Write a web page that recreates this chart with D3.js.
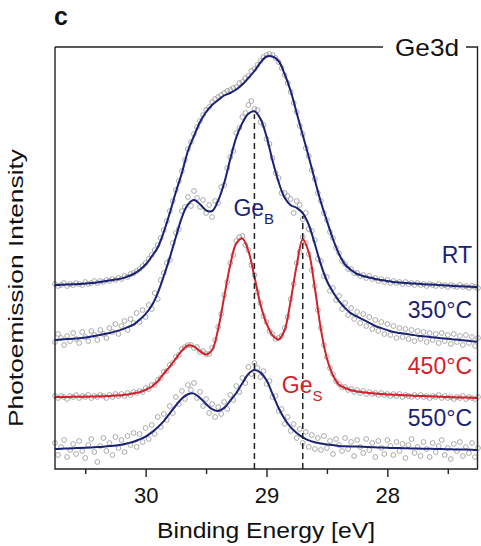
<!DOCTYPE html>
<html>
<head>
<meta charset="utf-8">
<script src="https://cdn.jsdelivr.net/npm/d3@7"></script>
<style>
  html, body { margin: 0; padding: 0; background: #fff; }
  svg { display: block; font-family: "Liberation Sans", Arial, Helvetica, sans-serif; }
</style>
</head>
<body>
<svg id="chart" width="481" height="546"></svg>
<script>
// Ge3d photoemission spectra, binding energy axis (eV, decreasing to the right)
// Fitted envelopes sampled every 0.05 eV starting at 30.75 eV
const FIT_START = 30.75, FIT_STEP = 0.05;
// Measured points sampled every 0.025 eV starting at 30.75 eV
const RAW_START = 30.75, RAW_STEP = 0.025;

const sampleLabels = ["RT", "350\u00B0C", "450\u00B0C", "550\u00B0C"];
const sampleColors = ["#1b2276", "#1b2276", "#d2222b", "#1b2276"];

const fitRT = [184,184.2,184.4,184.7,185,185.5,186,186.6,187.5,188.4,189.4,190.4,192.5,195,199,204.5,212.5,221.5,237,256,277,296,318,333,347,357,364,369,373.5,376,379.5,384.5,391,398,406.5,412.5,412.5,408,395,378,356,334,312,289,267,248,230,215,204.5,199,195,193,191.5,190,189,188,187,186.5,186,185.6,185.2,184.8,184.5,184.2,183.8,183.4,183,182.7,182.4,182.2,182];
const fit350 = [129,129.4,129.9,130.3,130.7,131.4,132.4,133.5,134.7,136,137.6,139.4,141.8,144.4,149.2,155.2,163.2,175.9,193,211.4,232,251.7,264.6,269,264.8,258.7,258,268.4,286,309.8,331.6,346,355.3,357.7,350.2,332.6,308.4,287.1,271.2,263.8,261.2,255.9,244.1,225,204.6,188,177,167.9,161.1,155.6,152.5,149.4,146.1,143,140.9,138.9,137,136.1,135.2,134.3,133.3,132.7,132,131.5,130.8,130.2,129.6,129.1,128.4,127.7,127];
const fit450 = [72,72.1,72.1,72.2,72.3,72.3,72.4,72.5,72.7,73.1,73.4,73.8,74.5,75.7,76.9,79.2,82.3,87.7,95.3,102.4,110.4,118.4,123.5,122.4,117.8,114.5,119,140,172.2,204.1,225.6,230.5,218.1,192.4,164.6,145.6,133.6,129.5,139,168.4,203.6,229.4,216.5,181,139.7,110.6,93.8,84.3,81,78.8,77.6,76.7,76.1,75.5,74.9,74.6,74.3,74,73.7,73.4,73.1,72.9,72.7,72.5,72.2,72,71.8,71.6,71.4,71.2,71];
const fit550 = [20,20.2,20.5,20.7,21,21.3,21.6,21.9,22.3,22.9,23.5,24.3,25.7,27.2,29.7,32.4,36.6,41.7,47.9,55.7,63.5,70.6,74.8,75.4,71,65,59.8,58.1,61.1,68.3,76,85.7,95,98.9,96.4,88.8,75,61,50,41.8,36,31.7,28.6,26.8,25.4,24.6,23.9,23.1,22.8,22.6,22.4,22.2,21.9,21.7,21.4,21.2,21,20.9,20.7,20.6,20.4,20.3,20.2,20,19.9,19.8,19.6,19.5,19.4,19.2,19];

const rawRT = [185,183,184,186,183,185,184,186,185,184,187,185,186,188,186,188,187,189,188,190,189,191,190,193,192,195,196,198,200,203,206,210,214,219,224,231,239,248,258,268,279,288,298,309,320,327,335,342,348,354,359,362,367,370,372,374,376,378,379,381,382,386,387,391,393,398,400,404,408,412,414,415,414,411,407,401,394,386,377,366,357,343,335,321,313,299,290,276,268,256,249,237,231,221,216,208,205,200,200,196,196,193,194,191,193,190,191,188,190,187,189,186,188,186,187,185,187,185,186,184,186,184,185,183,185,184,183,185,183,184,182,184,183,182,184,182,183,181,183,182,181];
const raw350 = [127,135,131,124,133,128,136,130,126,137,132,128,138,134,129,139,135,131,141,137,145,135,143,148,139,150,146,156,147,159,152,164,160,176,170,189,196,206,209,226,236,240,258,262,272,263,278,271,262,269,256,264,252,268,266,282,284,301,312,318,336,341,352,356,364,368,360,359,347,344,330,325,311,296,291,276,276,273,270,256,268,264,250,256,240,238,229,210,208,193,192,178,181,169,173,160,166,154,161,150,157,146,155,143,152,140,149,138,147,135,145,134,143,131,141,132,140,130,139,128,138,130,137,127,136,129,135,126,136,128,134,125,135,127,133,124,134,126,132,123,131];
const raw450 = [73,71,73,72,70,73,72,74,71,73,72,74,71,73,72,74,73,71,74,72,75,73,75,73,76,74,77,76,78,77,81,80,84,84,89,91,97,98,104,106,112,114,120,122,124,124,121,122,117,118,115,115,121,129,142,155,174,187,206,214,228,232,233,224,219,204,194,177,166,153,147,138,135,130,131,133,141,152,170,185,206,217,232,226,215,199,183,159,141,124,112,101,95,88,85,82,82,79,80,77,79,76,78,75,77,75,76,74,76,74,75,73,75,73,75,72,74,73,72,74,72,74,72,73,71,73,72,74,71,73,71,72,70,72,71,73,70,72,71,70,72];
const raw550 = [26,14,22,29,12,19,25,15,28,18,11,24,30,17,7,23,31,18,26,14,32,21,29,17,33,24,36,22,35,27,41,30,44,35,52,42,55,49,63,56,72,65,78,70,84,79,86,71,77,63,70,56,65,52,62,55,67,60,74,69,83,77,91,86,102,95,106,101,92,98,85,88,72,73,58,60,45,52,38,45,31,40,26,37,22,34,20,31,19,33,21,28,15,30,24,18,31,20,27,13,29,22,16,30,19,26,12,28,21,15,29,23,14,27,18,25,11,24,30,16,22,13,27,20,12,26,17,23,29,14,21,10,25,18,27,13,22,16,26,12,21];

// Component positions marked by dashed guides (eV)
const componentEnergies = [29.1, 28.7];
const componentNames = [["Ge", "B"], ["Ge", "S"]];
const componentColors = ["#1b2276", "#d2222b"];

const majorTicks = [30, 29, 28];
const minorTicks = [30.5, 29.5, 28.5, 27.5];
const xDomain = [30.75, 27.25];
const yDomain = [0, 422];

const fits = [fitRT, fit350, fit450, fit550];
const raws = [rawRT, raw350, raw450, raw550];

const svg = d3.select("#chart");
const plotLeft = 55, plotRight = 478, plotTop = 47, plotBottom = 469;

const x = d3.scaleLinear().domain(xDomain).range([plotLeft, plotRight]);
const y = d3.scaleLinear().domain(yDomain).range([plotBottom, plotTop]);

const fitE = i => FIT_START - FIT_STEP * i;
const rawE = i => RAW_START - RAW_STEP * i;

// measured points
raws.forEach((arr) => {
  svg.append("g")
    .selectAll("circle")
    .data(arr)
    .join("circle")
    .attr("cx", (d, i) => x(rawE(i)))
    .attr("cy", d => y(d))
    .attr("r", 2.4)
    .attr("fill", "none")
    .attr("stroke", "#959595")
    .attr("stroke-width", 0.8);
});

// fitted envelopes
const line = d3.line()
  .x((d, i) => x(fitE(i)))
  .y(d => y(d))
  .curve(d3.curveCatmullRom.alpha(0.5));

fits.forEach((arr, k) => {
  svg.append("path")
    .attr("d", line(arr))
    .attr("fill", "none")
    .attr("stroke", sampleColors[k])
    .attr("stroke-width", 2);
});

// dashed guides up to the 350 °C envelope
componentEnergies.forEach((e) => {
  const idx = Math.round((FIT_START - e) / FIT_STEP);
  svg.append("line")
    .attr("x1", x(e)).attr("x2", x(e))
    .attr("y1", y(0)).attr("y2", y(fit350[idx]) + 3)
    .attr("stroke", "#222")
    .attr("stroke-width", 1.5)
    .attr("stroke-dasharray", "6,4");
});

// component labels
const compLabelY = [216, 393];
componentEnergies.forEach((e, k) => {
  const t = svg.append("text")
    .attr("x", x(e) - 21)
    .attr("y", compLabelY[k])
    .attr("fill", componentColors[k])
    .attr("font-size", 23);
  t.append("tspan").text(componentNames[k][0]);
  t.append("tspan").attr("dy", 8).attr("font-size", 15).text(componentNames[k][1]);
});

// sample labels at the right
fits.forEach((arr, k) => {
  svg.append("text")
    .attr("x", 472)
    .attr("y", y(arr[arr.length - 1]) - 24)
    .attr("text-anchor", "end")
    .attr("fill", sampleColors[k])
    .attr("font-size", 23)
    .text(sampleLabels[k]);
});

// x axis ticks
const axisG = svg.append("g").attr("transform", `translate(0,${plotBottom})`);
axisG.call(d3.axisBottom(x).tickValues(majorTicks).tickSize(8).tickPadding(10).tickFormat(d3.format("d")))
  .call(g => g.select(".domain").remove())
  .call(g => g.selectAll(".tick line").attr("stroke", "#222").attr("stroke-width", 1.4))
  .call(g => g.selectAll(".tick text").attr("font-size", 22).attr("fill", "#111")
    .attr("font-family", "'Liberation Sans', Arial, sans-serif"));
svg.append("g").attr("transform", `translate(0,${plotBottom})`)
  .call(d3.axisBottom(x).tickValues(minorTicks).tickSize(5).tickFormat(""))
  .call(g => g.select(".domain").remove())
  .call(g => g.selectAll(".tick line").attr("stroke", "#222").attr("stroke-width", 1.4));

// frame with title break in the top edge
const frame = svg.append("g").attr("stroke", "#222").attr("stroke-width", 1.4).attr("fill", "none");
frame.append("path").attr("d", `M${plotLeft},${plotTop}V${plotBottom}H${plotRight - 0.5}V${plotTop}H466`);
frame.append("path").attr("d", `M${plotLeft},${plotTop}H383`);

svg.append("text")
  .attr("x", 395).attr("y", 56)
  .attr("font-size", 24)
  .attr("textLength", 64)
  .attr("lengthAdjust", "spacingAndGlyphs")
  .attr("fill", "#111")
  .text("Ge3d");

svg.append("text")
  .attr("x", 54).attr("y", 25)
  .attr("font-size", 25)
  .attr("font-weight", "bold")
  .attr("fill", "#111")
  .text("c");

// axis titles
svg.append("text")
  .attr("x", 157).attr("y", 538)
  .attr("font-size", 22)
  .attr("textLength", 218)
  .attr("lengthAdjust", "spacingAndGlyphs")
  .attr("fill", "#111")
  .text("Binding Energy [eV]");

svg.append("text")
  .attr("transform", `translate(23,427) rotate(-90)`)
  .attr("font-size", 21)
  .attr("textLength", 278)
  .attr("lengthAdjust", "spacingAndGlyphs")
  .attr("fill", "#111")
  .text("Photoemission Intensity");
</script>
</body>
</html>
